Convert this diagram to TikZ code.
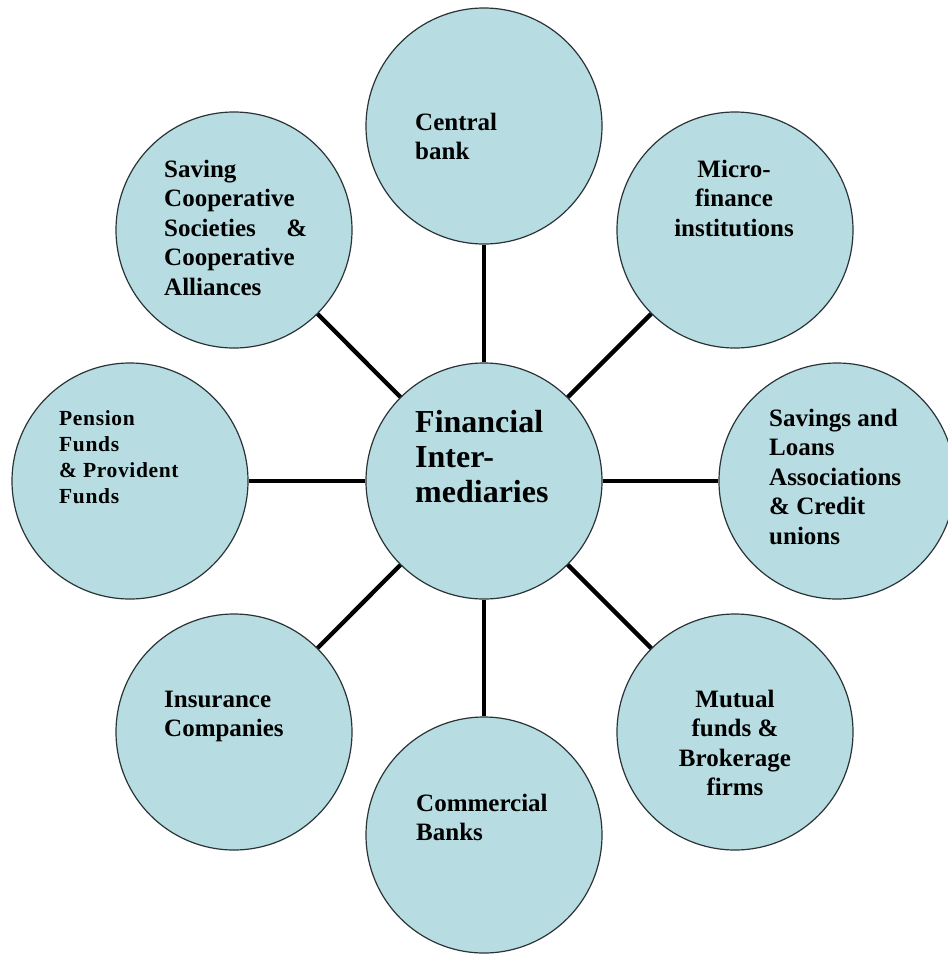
\documentclass[tikz,border=0pt]{standalone}
\usepackage{fontspec}
\newfontfamily\lblfont{Liberation Serif}
\newfontfamily\pensfont{Liberation Serif}[LetterSpace=3.0]
\definecolor{cfill}{HTML}{B7DDE2}
\definecolor{cedge}{HTML}{2A3436}
\tikzset{
  circ/.style={circle, draw=cedge, line width=1.2pt, fill=cfill, minimum size=236pt, inner sep=0pt},
  link/.style={line width=4.3pt, draw=black},
  lbl/.style={inner sep=0pt, text=black, font=\lblfont\bfseries\fontsize{25}{29.5}\selectfont},
  plbl/.style={inner sep=0pt, text=black, font=\pensfont\bfseries\fontsize{21.5}{26}\selectfont},
  clbl/.style={inner sep=0pt, text=black, font=\lblfont\bfseries\fontsize{32}{35}\selectfont},
}
\begin{document}
\begin{tikzpicture}[x=1pt,y=-1pt]
\useasboundingbox (0,0) rectangle (948,954);
% circles
\node[circ] (fi) at (484,481) {};
\node[circ] (cb) at (484,126) {};
\node[circ] (mf) at (735,230) {};
\node[circ] (sl) at (837,481) {};
\node[circ] (mu) at (735,732) {};
\node[circ] (cm) at (484,835) {};
\node[circ] (ins) at (234,732) {};
\node[circ] (pf) at (130,481) {};
\node[circ] (sc) at (234,230) {};
% connectors
\foreach \n in {cb,mf,sl,mu,cm,ins,pf,sc} \draw[link] (fi) -- (\n);
% labels
\node[clbl, anchor=base west] (tfi) at (415,432) {\vtop{\hbox{Financial}\hbox{Inter-}\hbox{mediaries}}};
\node[lbl, anchor=base west] (tcb) at (415,130) {\vtop{\hbox{Central}\hbox{bank}}};
\node[lbl, anchor=base] (tmf) at (734,177) {\vtop{\halign{\hfil#\hfil\cr Micro-\cr finance\cr institutions\cr}}};
\node[lbl, anchor=base west] (tsl) at (769,426) {\vtop{\hbox{Savings and}\hbox{Loans}\hbox{Associations}\hbox{\& Credit}\hbox{unions}}};
\node[lbl, anchor=base] (tmu) at (735,707) {\vtop{\halign{\hfil#\hfil\cr Mutual\cr funds \&\cr Brokerage\cr firms\cr}}};
\node[lbl, anchor=base west] (tcm) at (416,811) {\vtop{\hbox{Commercial}\hbox{Banks}}};
\node[lbl, anchor=base west] (tins) at (164,707) {\vtop{\hbox{Insurance}\hbox{Companies}}};
\node[plbl, anchor=base west] (tpf) at (59,425) {\vtop{\hbox{Pension}\hbox{Funds}\hbox{\& Provident}\hbox{Funds}}};
\node[lbl, anchor=base west] (tsc) at (164,177) {\vtop{\hbox{Saving}\hbox{Cooperative}\hbox to 143pt{Societies\hfill\&}\hbox{Cooperative}\hbox{Alliances}}};
\end{tikzpicture}
\end{document}
